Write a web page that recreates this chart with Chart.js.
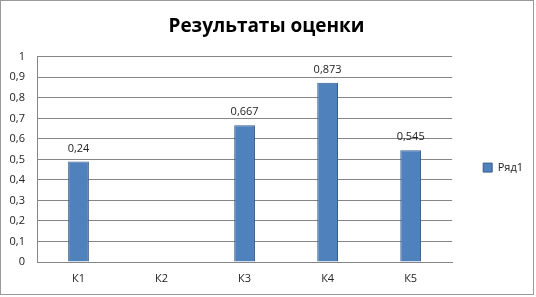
<!DOCTYPE html>
<html>
<head>
<meta charset="utf-8">
<script src="https://cdn.jsdelivr.net/npm/chart.js@4"></script>
<style>
  body { margin: 0; background: #fff; }
  #wrap { position: relative; width: 536px; height: 297px; }
  #frame { position: absolute; left: 0; top: 0; width: 532px; height: 293px; border: 1px solid #9a9a9a; pointer-events: none; }
</style>
</head>
<body>
<div id="wrap">
  <canvas id="myChart" width="536" height="297"></canvas>
  <div id="frame"></div>
</div>
<script>
const categories = ['К1', 'К2', 'К3', 'К4', 'К5'];
const seriesName = 'Ряд1';
const values = [0.49, 0, 0.667, 0.873, 0.545];
const valueLabels = ['0,24', null, '0,667', '0,873', '0,545'];
const yTicks = [0, 0.1, 0.2, 0.3, 0.4, 0.5, 0.6, 0.7, 0.8, 0.9, 1];

const textFont = "'Open Sans', sans-serif";

// data labels above bars
const barLabels = {
    id: 'barLabels',
    afterDatasetsDraw(chart){
        const ctx = chart.ctx;
        const meta = chart.getDatasetMeta(0);
        ctx.save();
        ctx.font = '11px ' + textFont;
        ctx.fillStyle = '#222';
        ctx.textAlign = 'center';
        ctx.textBaseline = 'middle';
        meta.data.forEach((bar, i) => {
            if (valueLabels[i] == null) return;
            ctx.fillText(valueLabels[i], bar.x, bar.y - 13);
        });
        ctx.restore();
    }
};

const ctx = document.getElementById('myChart');
new Chart(ctx, {
    type: 'bar',
    data: {
        labels: categories,
        datasets: [{
            label: seriesName,
            data: values,
            backgroundColor: '#4F81BD',
            borderColor: '#385D8A',
            borderWidth: 1,
            categoryPercentage: 1,
            barPercentage: 0.25
        }]
    },
    options: {
        responsive: false,
        animation: false,
        layout: { padding: { left: 0, right: 3, top: 0, bottom: 0 } },
        plugins: {
            title: {
                display: true,
                text: 'Результаты оценки',
                color: '#000',
                font: { family: textFont, size: 19, weight: 'bold' },
                padding: { top: 15, bottom: 19 }
            },
            legend: {
                position: 'right',
                title: { display: true, text: ' ', font: { size: 11 }, padding: { top: 0, bottom: 25 } },
                labels: {
                    boxWidth: 9,
                    boxHeight: 9,
                    color: '#222',
                    font: { family: textFont, size: 11 },
                    padding: 31
                }
            },
            tooltip: { enabled: false }
        },
        scales: {
            x: {
                grid: { display: false, drawTicks: false },
                border: { display: true, color: '#868686' },
                ticks: { color: '#222', font: { family: textFont, size: 11 }, padding: 10 },
                afterFit(scale){ scale.height = 35; }
            },
            y: {
                min: 0,
                max: 1,
                afterBuildTicks(scale){ scale.ticks = yTicks.map(v => ({ value: v })); },
                grid: { color: '#868686', drawTicks: false },
                border: { display: true, color: '#868686' },
                ticks: {
                    color: '#222',
                    font: { family: textFont, size: 11 },
                    padding: 12,
                    callback: v => String(v).replace('.', ',')
                },
                afterFit(scale){ scale.width = 37; }
            }
        }
    },
    plugins: [barLabels]
});
</script>
</body>
</html>
